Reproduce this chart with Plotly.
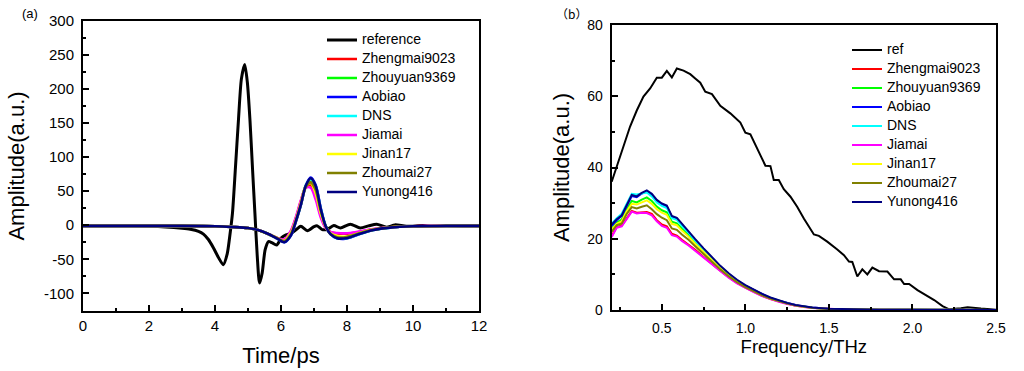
import plotly.graph_objects as go

# ---------------- (a) time domain ----------------
ref_t = [0, 1, 2, 2.5, 3.0, 3.25, 3.5, 3.65, 3.8, 3.95, 4.1, 4.25, 4.37, 4.45, 4.53, 4.62, 4.71,
         4.8, 4.9, 4.98, 5.06, 5.14, 5.21, 5.28, 5.35, 5.43, 5.52, 5.62, 5.72, 5.87, 6.02, 6.15,
         6.3, 6.47, 6.6, 6.8, 7.0, 7.1, 7.25, 7.4, 7.6, 7.8, 8.1, 8.4, 8.65, 8.9, 9.2, 9.45, 9.8,
         10.3, 10.6, 11, 11.5, 12]
ref_amp = [-1, -1, -1.5, -2.5, -4.5, -6, -9, -13, -21, -33, -47, -58, -42, -15, 18, 85, 154,
           215, 236, 210, 154, 80, 17, -45, -85, -70, -36, -24, -25.5, -29, -18, -14,
           -12, -6, -1.5, -8, -2, -1, -6.5, -6, -0.5, -4, 1.5, -4, -1, 1.5, -3, 0.5, -1.5,
           -0.5, -1.5, -0.5, -1, -1]

t = [0, 1, 2, 3, 4, 4.5, 5.0, 5.3, 5.6, 5.9, 6.1, 6.3, 6.45, 6.6, 6.75, 6.9, 7.05, 7.2, 7.35,
     7.5, 7.7, 7.9, 8.1, 8.4, 8.8, 9.3, 10, 11, 12]
amp_zhengmai = [-1, -1, -1, -1, -1.5, -2.5, -4, -7, -12.5, -19, -21.5, -9, 10, 35, 56, 59, 42, 15,
                -3, -10, -12, -12.5, -12, -9.5, -6, -3, -1.5, -1, -1]
amp_zhouyuan = [-1, -1, -1, -1, -1.5, -2.5, -4, -7, -12.5, -19.5, -23, -12, 7, 32, 58, 64, 51, 21,
                -1, -12, -17, -18, -16, -11.5, -6.5, -3.2, -1.5, -1, -1]
amp_aobiao = [-1, -1, -1, -1, -1.5, -2.5, -4, -7, -12.5, -20, -25, -15, 5, 29, 58, 70, 59, 26,
              -1, -13, -19, -20, -18, -12.5, -7, -3.5, -1.5, -1, -1]
amp_dns = [-1, -1, -1, -1, -1.5, -2.5, -4, -7, -12.5, -20, -24.5, -14, 6, 30, 58, 68, 57, 25,
           -1, -13, -19, -19.5, -17.5, -12.5, -7, -3.5, -1.5, -1, -1]
amp_jiamai = [-1, -1, -1, -1, -1.5, -2.5, -4, -7, -12.5, -19, -21, -8, 12, 36, 55, 55, 38, 12,
              -4, -10, -11.5, -12, -11.5, -9, -5.5, -3, -1.5, -1, -1]
amp_jinan = [-1, -1, -1, -1, -1.5, -2.5, -4, -7, -12.5, -19.5, -23, -11, 8, 33, 57, 62, 47, 18,
             -2, -12, -16, -17, -15.5, -11, -6.5, -3.2, -1.5, -1, -1]
amp_zhoumai = [-1, -1, -1, -1, -1.5, -2.5, -4, -7, -12.5, -19.5, -23.5, -13, 6, 30, 56, 63, 52, 22,
               -1, -13, -17.5, -18, -16, -11.5, -6.5, -3.3, -1.5, -1, -1]
amp_yunong = [-1, -1, -1, -1, -1.5, -2.5, -4, -7, -12.5, -20, -25, -15, 6, 30, 58, 69, 58, 25,
              -1, -13, -19, -19.5, -17.5, -12.5, -7, -3.5, -1.5, -1, -1]

amp_tickvals = [-100, -50, 0, 50, 100, 150, 200, 250, 300]
amp_ticktext = ["-100", "-50", "0", "50", "100", "150", "200", "250", "300"]

# ---------------- (b) frequency domain ----------------
ref_f = [0.20, 0.25, 0.31, 0.35, 0.39, 0.43, 0.47, 0.50, 0.53, 0.56, 0.59, 0.63, 0.67, 0.70, 0.73,
         0.76, 0.80, 0.85, 0.91, 0.97, 1.00, 1.03, 1.07, 1.12, 1.15, 1.17, 1.20, 1.23, 1.27, 1.31,
         1.35, 1.38, 1.41, 1.44, 1.49, 1.55, 1.59, 1.62, 1.64, 1.67, 1.70, 1.73, 1.76, 1.80, 1.85,
         1.89, 1.93, 1.95, 1.98, 2.03, 2.08, 2.13, 2.18, 2.22, 2.29, 2.33, 2.41, 2.50]
ref_spec = [36.0, 43.0, 51.5, 56.0, 59.9, 62.2, 65.2, 65.2, 67.1, 65.3, 67.8, 67.2, 66.2, 65.0, 63.8,
            61.3, 60.6, 57.3, 55.2, 52.6, 49.8, 49.3, 45.4, 40.5, 40.4, 36.5, 36.5, 33.9, 31.8, 29.0,
            25.7, 23.4, 21.2, 20.8, 19.2, 17.0, 15.4, 13.6, 13.5, 9.4, 11.4, 10.0, 11.9, 10.9, 10.8,
            8.6, 8.6, 7.3, 7.3, 5.6, 4.2, 2.8, 1.1, 0.2, 0.5, 0.8, 0.4, 0.1]

freq = [0.20, 0.23, 0.26, 0.29, 0.32, 0.35, 0.38, 0.41, 0.44, 0.47, 0.50, 0.53, 0.56, 0.59, 0.62,
        0.66, 0.70, 0.75, 0.80, 0.85, 0.90, 0.95, 1.00, 1.05, 1.10, 1.15, 1.20, 1.25, 1.30, 1.35,
        1.40, 1.50, 1.60, 1.80, 2.00, 2.25, 2.50]
spec_zhengmai = [20.8, 23.3, 23.7, 25.9, 27.8, 27.3, 27.5, 27.5, 27.0, 25.2, 24.0, 23.5, 21.4, 20.9, 19.7,
                 18.4, 16.9, 14.9, 12.9, 11.0, 9.2, 7.6, 6.3, 5.1, 4.0, 3.1, 2.4, 1.8, 1.2, 0.9,
                 0.6, 0.3, 0.17, 0.1, 0.05, 0.03, 0.02]
spec_zhouyuan = [22.8, 24.6, 25.4, 28.3, 30.6, 30.2, 31.0, 31.6, 30.6, 29.0, 28.0, 27.4, 24.8, 24.3, 22.8,
                 21.0, 18.9, 16.5, 14.1, 11.9, 9.9, 8.1, 6.7, 5.4, 4.3, 3.3, 2.5, 1.9, 1.3, 0.9,
                 0.6, 0.3, 0.18, 0.1, 0.05, 0.03, 0.02]
spec_aobiao = [23.6, 25.2, 26.4, 29.4, 32.0, 31.7, 32.7, 33.3, 32.3, 30.6, 29.6, 29.0, 26.1, 25.6, 23.9,
               21.9, 19.6, 17.0, 14.5, 12.2, 10.1, 8.3, 6.8, 5.6, 4.4, 3.4, 2.6, 1.9, 1.4, 1.0,
               0.7, 0.35, 0.2, 0.1, 0.05, 0.03, 0.02]
spec_dns = [24.2, 25.8, 27.0, 30.0, 32.6, 32.4, 32.6, 33.0, 31.9, 30.2, 29.2, 28.6, 25.8, 25.3, 23.6,
            21.7, 19.4, 16.9, 14.4, 12.1, 10.0, 8.2, 6.8, 5.5, 4.3, 3.4, 2.6, 1.9, 1.3, 0.9,
            0.6, 0.3, 0.18, 0.1, 0.05, 0.03, 0.02]
spec_jiamai = [20.5, 23.1, 23.5, 25.7, 27.6, 27.1, 27.3, 27.2, 26.6, 24.9, 23.6, 23.1, 21.0, 20.6, 19.4,
               18.1, 16.6, 14.7, 12.7, 10.8, 9.1, 7.5, 6.2, 5.0, 3.9, 3.0, 2.3, 1.7, 1.2, 0.85,
               0.55, 0.3, 0.16, 0.1, 0.05, 0.03, 0.02]
spec_jinan = [22.5, 24.2, 24.9, 27.7, 29.8, 29.6, 30.2, 30.8, 29.8, 28.3, 27.3, 26.7, 24.2, 23.8, 22.3,
              20.6, 18.6, 16.2, 13.9, 11.7, 9.7, 8.0, 6.6, 5.3, 4.2, 3.2, 2.5, 1.8, 1.3, 0.9,
              0.6, 0.3, 0.17, 0.1, 0.05, 0.03, 0.02]
spec_zhoumai = [22.0, 23.8, 24.3, 27.0, 28.9, 28.5, 29.0, 29.4, 28.3, 26.9, 25.9, 25.2, 22.9, 22.5, 21.2,
                19.7, 17.9, 15.7, 13.5, 11.4, 9.5, 7.8, 6.4, 5.2, 4.1, 3.2, 2.4, 1.8, 1.3, 0.9,
                0.6, 0.3, 0.17, 0.1, 0.05, 0.03, 0.02]
spec_yunong = [24.0, 25.5, 26.6, 29.6, 32.3, 31.9, 32.9, 33.6, 32.6, 30.9, 29.9, 29.3, 26.4, 25.9, 24.2,
               22.2, 19.9, 17.3, 14.7, 12.4, 10.3, 8.5, 7.0, 5.7, 4.5, 3.5, 2.7, 2.0, 1.4, 1.0,
               0.7, 0.35, 0.2, 0.1, 0.05, 0.03, 0.02]

sample_names = ["Zhengmai9023", "Zhouyuan9369", "Aobiao", "DNS", "Jiamai", "Jinan17",
                "Zhoumai27", "Yunong416"]
sample_colors = ["#FF0000", "#00FF00", "#0000FF", "#00FFFF", "#FF00FF", "#FFFF00",
                 "#808000", "#000080"]
time_series = [amp_zhengmai, amp_zhouyuan, amp_aobiao, amp_dns, amp_jiamai, amp_jinan,
               amp_zhoumai, amp_yunong]
spec_series = [spec_zhengmai, spec_zhouyuan, spec_aobiao, spec_dns, spec_jiamai, spec_jinan,
               spec_zhoumai, spec_yunong]

FONT = "Arial, Liberation Sans, sans-serif"


def lname(s):
    return '<span style="font-size:14px">' + s + '</span>'


fig = go.Figure()

# left panel
fig.add_trace(go.Scatter(x=ref_t, y=ref_amp, mode="lines", name=lname("reference"),
                         line=dict(color="#000000", width=3, shape="spline", smoothing=0.7),
                         xaxis="x", yaxis="y", legend="legend"))
for nm, col, ys in zip(sample_names, sample_colors, time_series):
    fig.add_trace(go.Scatter(x=t, y=ys, mode="lines", name=lname(nm),
                             line=dict(color=col, width=2.6, shape="spline", smoothing=0.8),
                             xaxis="x", yaxis="y", legend="legend"))

# right panel
fig.add_trace(go.Scatter(x=ref_f, y=ref_spec, mode="lines", name=lname("ref"),
                         line=dict(color="#000000", width=2),
                         xaxis="x2", yaxis="y2", legend="legend2"))
for nm, col, ys in zip(sample_names, sample_colors, spec_series):
    fig.add_trace(go.Scatter(x=freq, y=ys, mode="lines", name=lname(nm),
                             line=dict(color=col, width=2),
                             xaxis="x2", yaxis="y2", legend="legend2"))

axis_common = dict(showline=True, linecolor="black", linewidth=2, mirror=True,
                   ticks="inside", tickwidth=2, ticklen=6, tickcolor="black",
                   showgrid=False, zeroline=False, automargin=False,
                   tickfont=dict(family=FONT, size=15, color="black"))

fig.update_layout(
    width=1024, height=371,
    margin=dict(l=0, r=0, t=0, b=0, autoexpand=False),
    paper_bgcolor="white", plot_bgcolor="white",
    font=dict(family=FONT, color="black"),
    xaxis=dict(axis_common, domain=[83 / 1024, 479 / 1024], range=[0, 12], dtick=2,
               minor=dict(dtick=1, ticks="inside", ticklen=3, tickwidth=2, tickcolor="black"),
               title=dict(text="Time/ps", font=dict(family=FONT, size=22), standoff=15),
               anchor="y", ticklabelstandoff=0),
    yaxis=dict(axis_common, domain=[60 / 371, 350 / 371], range=[-126, 300],
               tickmode="array", tickvals=amp_tickvals, ticktext=amp_ticktext,
               minor=dict(dtick=25, tick0=0, ticks="inside", ticklen=3, tickwidth=2,
                          tickcolor="black"),
               title=dict(text="Amplitude(a.u.)", font=dict(family=FONT, size=22), standoff=13),
               anchor="x", ticklabelstandoff=4),
    xaxis2=dict(axis_common, domain=[611.7 / 1024, 996 / 1024], range=[0.2, 2.5], dtick=0.5,
                tick0=0, tickformat=".1f", tickfont=dict(family=FONT, size=14, color="black"),
                minor=dict(dtick=0.25, ticks="inside", ticklen=3, tickwidth=2, tickcolor="black"),
                title=dict(text="Frequency/THz", font=dict(family=FONT, size=18.5), standoff=3),
                anchor="y2", ticklabelstandoff=4),
    yaxis2=dict(axis_common, domain=[61 / 371, 346 / 371], range=[0, 80], dtick=20,
                tickfont=dict(family=FONT, size=14, color="black"),
                minor=dict(dtick=10, ticks="inside", ticklen=3, tickwidth=2, tickcolor="black"),
                title=dict(text="Amplitude(a.u.)", font=dict(family=FONT, size=22), standoff=12),
                anchor="x2", ticklabelstandoff=4),
    legend=dict(x=322 / 1024, y=1 - 25.5 / 371, xanchor="left", yanchor="top",
                bgcolor="rgba(0,0,0,0)", borderwidth=0, font=dict(family=FONT, size=11)),
    legend2=dict(x=847 / 1024, y=1 - 35.5 / 371, xanchor="left", yanchor="top",
                 bgcolor="rgba(0,0,0,0)", borderwidth=0, font=dict(family=FONT, size=11)),
    annotations=[
        dict(text="(a)", x=30 / 1024, y=1 - 13 / 371, xref="paper", yref="paper",
             xanchor="center", yanchor="middle",
             showarrow=False, font=dict(family=FONT, size=13)),
        dict(text="（b）", x=571 / 1024, y=1 - 13 / 371, xref="paper", yref="paper",
             xanchor="center", yanchor="middle",
             showarrow=False, font=dict(family="Noto Sans CJK SC, " + FONT, size=12)),
    ],
)

fig.write_html("out.html", config={"displayModeBar": False},
               post_script="document.body.style.margin='0';document.body.style.padding='0';")
